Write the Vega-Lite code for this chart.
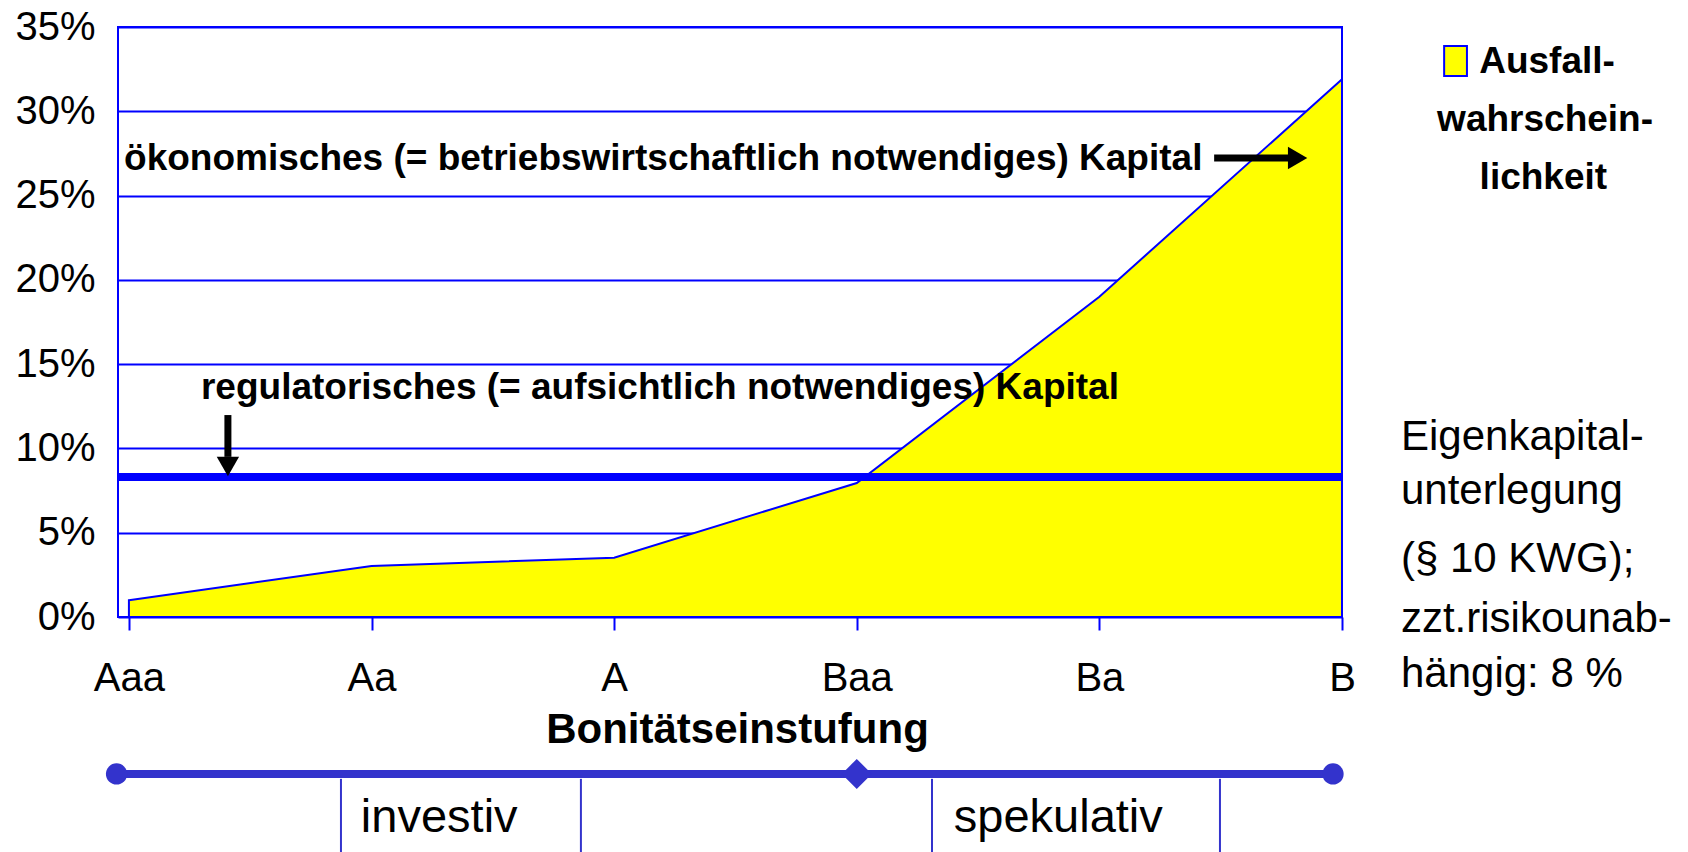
{
  "$schema": "https://vega.github.io/schema/vega-lite/v6.json",
  "autosize": {"type": "none"},
  "width": 1224,
  "height": 590,
  "padding": {"left": 118, "top": 27, "right": 346, "bottom": 235},
  "background": "white",
  "config": {
    "font": "Liberation Sans",
    "view": {"stroke": "#0000FF", "strokeWidth": 2}
  },
  "layer": [
    {
      "data": {"values": [
        {"rating": "Aaa", "rank": 0, "pd": 1.0},
        {"rating": "Aa", "rank": 1, "pd": 3.03},
        {"rating": "A", "rank": 2, "pd": 3.52},
        {"rating": "Baa", "rank": 3, "pd": 7.95},
        {"rating": "Ba", "rank": 4, "pd": 19.0},
        {"rating": "B", "rank": 5, "pd": 31.9}
      ]},
      "mark": {"type": "area", "fill": "#FFFF00", "stroke": "#0000FF", "strokeWidth": 2, "fillOpacity": 1},
      "encoding": {
        "x": {
          "field": "rank", "type": "quantitative",
          "scale": {"domain": [-0.045, 5], "nice": false, "zero": false},
          "axis": {
            "title": "Bonitätseinstufung",
            "values": [0, 1, 2, 3, 4, 5],
            "labelExpr": "['Aaa','Aa','A','Baa','Ba','B'][datum.value]",
            "grid": false, "domain": false,
            "ticks": true, "tickColor": "#0000FF", "tickSize": 13, "tickWidth": 2,
            "labelFontSize": 40, "labelColor": "black", "labelBaseline": "alphabetic",
            "labelPadding": 60, "labelFlush": false, "labelOverlap": false,
            "titleFontSize": 42, "titleFontWeight": "bold", "titleColor": "black",
            "titleX": 619, "titleY": 125, "titleBaseline": "alphabetic", "titleAnchor": "middle", "titleAlign": "center"
          }
        },
        "y": {
          "field": "pd", "type": "quantitative",
          "scale": {"domain": [0, 35], "nice": false},
          "axis": {
            "title": null,
            "values": [0, 5, 10, 15, 20, 25, 30, 35],
            "labelExpr": "datum.value + '%'",
            "grid": true, "gridColor": "#0000FF", "gridWidth": 2,
            "domain": false, "ticks": false,
            "labelFontSize": 40, "labelColor": "black", "labelPadding": 23,
            "labelBaseline": "middle", "labelFlush": false, "labelOverlap": false
          }
        }
      }
    },
    {
      "data": {"values": [{"quote": 8.3}]},
      "mark": {"type": "rule", "stroke": "#0000FF", "strokeWidth": 8},
      "encoding": {
        "y": {"field": "quote", "type": "quantitative", "scale": {"domain": [0, 35], "nice": false}}
      }
    },
    {
      "data": {"values": [
        {"label": "ökonomisches (= betriebswirtschaftlich notwendiges) Kapital", "x": -0.02, "y": 26.52},
        {"label": "regulatorisches (= aufsichtlich notwendiges) Kapital", "x": 0.297, "y": 12.93}
      ]},
      "mark": {"type": "text", "align": "left", "baseline": "alphabetic", "fontSize": 37, "fontWeight": "bold", "color": "black"},
      "encoding": {
        "x": {"field": "x", "type": "quantitative", "scale": {"domain": [-0.045, 5], "nice": false, "zero": false}},
        "y": {"field": "y", "type": "quantitative", "scale": {"domain": [0, 35], "nice": false}},
        "text": {"field": "label"}
      }
    },
    {
      "data": {"values": [
        {"x": 4.473, "x2": 4.79, "y": 27.23, "y2": 27.23},
        {"x": 0.408, "x2": 0.408, "y": 11.98, "y2": 9.5}
      ]},
      "mark": {"type": "rule", "stroke": "black", "strokeWidth": 7},
      "encoding": {
        "x": {"field": "x", "type": "quantitative", "scale": {"domain": [-0.045, 5], "nice": false, "zero": false}},
        "x2": {"field": "x2"},
        "y": {"field": "y", "type": "quantitative", "scale": {"domain": [0, 35], "nice": false}},
        "y2": {"field": "y2"}
      }
    },
    {
      "data": {"values": [{"x": 4.817, "y": 27.23}]},
      "mark": {"type": "point", "shape": "triangle-right", "filled": true, "color": "black", "opacity": 1, "size": 500},
      "encoding": {
        "x": {"field": "x", "type": "quantitative", "scale": {"domain": [-0.045, 5], "nice": false, "zero": false}},
        "y": {"field": "y", "type": "quantitative", "scale": {"domain": [0, 35], "nice": false}}
      }
    },
    {
      "data": {"values": [{"x": 0.408, "y": 8.93}]},
      "mark": {"type": "point", "shape": "triangle-down", "filled": true, "color": "black", "opacity": 1, "size": 500},
      "encoding": {
        "x": {"field": "x", "type": "quantitative", "scale": {"domain": [-0.045, 5], "nice": false, "zero": false}},
        "y": {"field": "y", "type": "quantitative", "scale": {"domain": [0, 35], "nice": false}}
      }
    },
    {
      "data": {"values": [{"x": 5.421, "x2": 5.515, "y": 32.09, "y2": 33.87}]},
      "mark": {"type": "rect", "fill": "#FFFF00", "stroke": "#0000FF", "strokeWidth": 2},
      "encoding": {
        "x": {"field": "x", "type": "quantitative", "scale": {"domain": [-0.045, 5], "nice": false, "zero": false}},
        "x2": {"field": "x2"},
        "y": {"field": "y", "type": "quantitative", "scale": {"domain": [0, 35], "nice": false}},
        "y2": {"field": "y2"}
      }
    },
    {
      "data": {"values": [
        {"label": "Ausfall-", "x": 5.845, "y": 32.27},
        {"label": "wahrschein-", "x": 5.837, "y": 28.83},
        {"label": "lichkeit", "x": 5.83, "y": 25.39}
      ]},
      "mark": {"type": "text", "align": "center", "baseline": "alphabetic", "fontSize": 37, "fontWeight": "bold", "color": "black"},
      "encoding": {
        "x": {"field": "x", "type": "quantitative", "scale": {"domain": [-0.045, 5], "nice": false, "zero": false}},
        "y": {"field": "y", "type": "quantitative", "scale": {"domain": [0, 35], "nice": false}},
        "text": {"field": "label"}
      }
    },
    {
      "data": {"values": [
        {"label": "Eigenkapital-", "x": 5.243, "y": 9.91},
        {"label": "unterlegung", "x": 5.243, "y": 6.70},
        {"label": "(§ 10 KWG);", "x": 5.243, "y": 2.67},
        {"label": "zzt.risikounab-", "x": 5.243, "y": -0.89},
        {"label": "hängig: 8 %", "x": 5.243, "y": -4.15}
      ]},
      "mark": {"type": "text", "align": "left", "baseline": "alphabetic", "fontSize": 42, "color": "black"},
      "encoding": {
        "x": {"field": "x", "type": "quantitative", "scale": {"domain": [-0.045, 5], "nice": false, "zero": false}},
        "y": {"field": "y", "type": "quantitative", "scale": {"domain": [0, 35], "nice": false}},
        "text": {"field": "label"}
      }
    },
    {
      "data": {"values": [{"x": -0.051, "x2": 4.963, "y": -9.31}]},
      "mark": {"type": "rule", "stroke": "#3333CC", "strokeWidth": 8},
      "encoding": {
        "x": {"field": "x", "type": "quantitative", "scale": {"domain": [-0.045, 5], "nice": false, "zero": false}},
        "x2": {"field": "x2"},
        "y": {"field": "y", "type": "quantitative", "scale": {"domain": [0, 35], "nice": false}}
      }
    },
    {
      "data": {"values": [
        {"x": 0.874, "y": -9.6, "y2": -14.5},
        {"x": 1.863, "y": -9.6, "y2": -14.5},
        {"x": 3.31, "y": -9.6, "y2": -14.5},
        {"x": 4.497, "y": -9.6, "y2": -14.5}
      ]},
      "mark": {"type": "rule", "stroke": "#3333CC", "strokeWidth": 2},
      "encoding": {
        "x": {"field": "x", "type": "quantitative", "scale": {"domain": [-0.045, 5], "nice": false, "zero": false}},
        "y": {"field": "y", "type": "quantitative", "scale": {"domain": [0, 35], "nice": false}},
        "y2": {"field": "y2"}
      }
    },
    {
      "data": {"values": [
        {"x": -0.051, "y": -9.31},
        {"x": 4.963, "y": -9.31}
      ]},
      "mark": {"type": "point", "shape": "circle", "filled": true, "color": "#3333CC", "opacity": 1, "size": 452},
      "encoding": {
        "x": {"field": "x", "type": "quantitative", "scale": {"domain": [-0.045, 5], "nice": false, "zero": false}},
        "y": {"field": "y", "type": "quantitative", "scale": {"domain": [0, 35], "nice": false}}
      }
    },
    {
      "data": {"values": [{"x": 3.0, "y": -9.31}]},
      "mark": {"type": "point", "shape": "diamond", "filled": true, "color": "#3333CC", "opacity": 1, "size": 900},
      "encoding": {
        "x": {"field": "x", "type": "quantitative", "scale": {"domain": [-0.045, 5], "nice": false, "zero": false}},
        "y": {"field": "y", "type": "quantitative", "scale": {"domain": [0, 35], "nice": false}}
      }
    },
    {
      "data": {"values": [
        {"label": "investiv", "x": 0.956, "y": -12.75},
        {"label": "spekulativ", "x": 3.4, "y": -12.75}
      ]},
      "mark": {"type": "text", "align": "left", "baseline": "alphabetic", "fontSize": 47, "color": "black"},
      "encoding": {
        "x": {"field": "x", "type": "quantitative", "scale": {"domain": [-0.045, 5], "nice": false, "zero": false}},
        "y": {"field": "y", "type": "quantitative", "scale": {"domain": [0, 35], "nice": false}},
        "text": {"field": "label"}
      }
    }
  ]
}
